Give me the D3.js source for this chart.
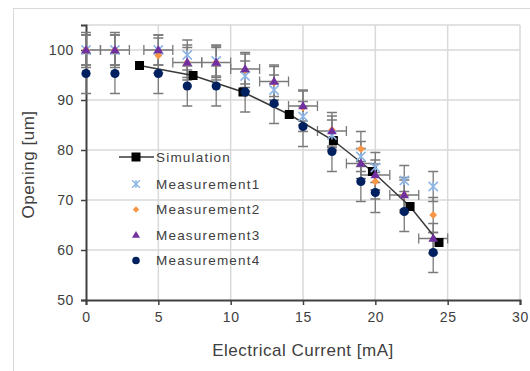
<!DOCTYPE html>
<html>
<head>
<meta charset="utf-8">
<script src="https://cdn.jsdelivr.net/npm/d3@7"></script>
<style>
  body { margin: 0; background: #fff; }
  text { font-family: "Liberation Sans", Arial, sans-serif; fill: #404040; }
</style>
</head>
<body>
<div id="chart"></div>
<script>
// simulation curve
const simX = [3.7, 7.4, 10.85, 14.05, 17.1, 19.8, 22.4, 24.4];
const simY = [96.9, 94.9, 91.6, 87.1, 81.9, 75.7, 68.7, 61.5];

// measurements share the same currents
const measX = [0, 2, 5, 7, 9, 11, 13, 15, 17, 19, 20, 22, 24];
const meas1 = [100, 100, 100, 99, 97.8, 94.8, 92, 86.7, 83, 78.7, 76.5, 73.9, 72.7];
const meas2 = [100, 100, 98.9, 97.5, 97.5, 96, 93.5, 88.5, 84, 80.2, 73.7, 71, 67];
const meas3 = [100, 100, 100, 97.5, 97.5, 96.2, 93.7, 88.8, 83.8, 77.3, 75, 71, 62.3];
const meas4 = [95.3, 95.3, 95.3, 92.8, 92.8, 91.6, 89.3, 84.7, 79.7, 73.7, 71.5, 67.7, 59.5];
const errY = [3, 3.5, 3, 4];   // per measurement series
const errX3 = 1;               // horizontal bars on measurement 3

const xTicks = [0, 5, 10, 15, 20, 25, 30];
const yTicks = [50, 60, 70, 80, 90, 100];
const legendNames = ['Simulation', 'Measurement1', 'Measurement2', 'Measurement3', 'Measurement4'];

const [W, H] = [530, 371];
const m = { l: 86, r: 10, t: 25, b: 71 };

const svg = d3.select('#chart').append('svg').attr('width', W).attr('height', H);

// outer chart frame
svg.append('rect').attr('x', 13.5).attr('y', 8.5).attr('width', W + 10).attr('height', H + 10)
  .attr('fill', 'none').attr('stroke', '#d9d9d9');

const x = d3.scaleLinear().domain([0, 30]).range([m.l, W - m.r]);
const y = d3.scaleLinear().domain([50, 105]).range([H - m.b, m.t]);

// grid
const grid = svg.append('g').attr('stroke', '#d9d9d9').attr('stroke-width', 1.5);
grid.selectAll('.gx').data(xTicks.slice(1)).enter().append('line')
  .attr('x1', d => x(d)).attr('x2', d => x(d)).attr('y1', y(50)).attr('y2', y(105));
grid.selectAll('.gy').data(yTicks.slice(1).concat([105])).enter().append('line')
  .attr('x1', x(0)).attr('x2', x(30)).attr('y1', d => y(d)).attr('y2', d => y(d));

// axes
const xAxis = svg.append('g').attr('transform', `translate(0,${y(50)})`)
  .call(d3.axisBottom(x).tickValues(xTicks).tickSize(5).tickPadding(7));
const yAxis = svg.append('g').attr('transform', `translate(${x(0)},0)`)
  .call(d3.axisLeft(y).tickValues(yTicks).tickSize(5).tickPadding(7));
[xAxis, yAxis].forEach(a => {
  a.select('.domain').attr('stroke', '#404040').attr('stroke-width', 2);
  a.selectAll('.tick line').attr('stroke', '#404040').attr('stroke-width', 1.5);
  a.selectAll('.tick text').attr('font-size', 14).attr('letter-spacing', 0.6).style('fill', '#404040')
    .attr('font-family', '"Liberation Sans", Arial, sans-serif');
});

svg.append('text').attr('x', (x(0) + x(30)) / 2).attr('y', 356)
  .attr('text-anchor', 'middle').attr('font-size', 17).attr('letter-spacing', 0.5)
  .text('Electrical Current [mA]');
svg.append('text').attr('transform', `translate(34,${(y(50) + y(105)) / 2 + 2}) rotate(-90)`)
  .attr('text-anchor', 'middle').attr('font-size', 17).attr('letter-spacing', 0.5).text('Opening [um]');

const series = [meas1, meas2, meas3, meas4];

// error bars
const eb = svg.append('g').attr('stroke', '#7a7a7a').attr('stroke-width', 1.3).attr('fill', 'none');
const cap = 5;
series.forEach((vals, si) => {
  const pts = measX.map((d, i) => [d, vals[i]]);
  const g = eb.append('g');
  g.selectAll('path.v').data(pts).enter().append('path')
    .attr('d', d => {
      const cx = x(d[0]), y1 = y(d[1] + errY[si]), y2 = y(d[1] - errY[si]);
      return `M${cx},${y1}V${y2}M${cx - cap},${y1}H${cx + cap}M${cx - cap},${y2}H${cx + cap}`;
    });
  if (si === 2) {
    g.selectAll('path.h').data(pts).enter().append('path')
      .attr('d', d => {
        const cy = y(d[1]);
        const x1 = x(Math.max(0, d[0] - errX3)), x2 = x(d[0] + errX3);
        let p = `M${x1},${cy}H${x2}M${x2},${cy - cap}V${cy + cap}`;
        if (d[0] - errX3 >= 0) p += `M${x1},${cy - cap}V${cy + cap}`;
        return p;
      });
  }
});

// simulation
const simPts = simX.map((d, i) => [d, simY[i]]);
svg.append('path').datum(simPts)
  .attr('d', d3.line().x(d => x(d[0])).y(d => y(d[1])))
  .attr('fill', 'none').attr('stroke', '#3a3a3a').attr('stroke-width', 1.5);
svg.append('g').selectAll('rect').data(simPts).enter().append('rect')
  .attr('x', d => x(d[0]) - 4.5).attr('y', d => y(d[1]) - 4.5)
  .attr('width', 9).attr('height', 9).attr('fill', '#000');

// marker shapes, s = half size
const colors = ['#8db4e2', '#f79646', '#7030a0', '#002060'];
function drawMarker(sel, k, s) {
  if (k === 0) {
    // Excel style star: X with a vertical stroke
    sel.append('path').attr('d', `M${-s},${-s}L${s},${s}M${-s},${s}L${s},${-s}M0,${-s}V${s}`)
      .attr('stroke', colors[0]).attr('stroke-width', 1.5).attr('fill', 'none');
  } else if (k === 1) {
    const r = s * 0.85;
    sel.append('path').attr('d', `M0,${-r}L${r},0L0,${r}L${-r},0Z`).attr('fill', colors[1]);
  } else if (k === 2) {
    const h = s * 1.8;
    sel.append('path').attr('d', `M0,${-h * 0.6}L${s * 1.05},${h * 0.4}L${-s * 1.05},${h * 0.4}Z`).attr('fill', colors[2]);
  } else {
    sel.append('circle').attr('r', s).attr('fill', colors[3]);
  }
}
series.forEach((vals, si) => {
  const g = svg.append('g');
  measX.forEach((d, i) => {
    const t = g.append('g').attr('transform', `translate(${x(d)},${y(vals[i])})`);
    drawMarker(t, si, 4.6);
  });
});

// legend
const leg = svg.append('g');
const legY = [157, 184, 209.5, 235, 260.5];
legendNames.forEach((name, i) => {
  const g = leg.append('g').attr('transform', `translate(136,${legY[i]})`);
  if (i === 0) {
    g.append('line').attr('x1', -17).attr('x2', 18).attr('stroke', '#3a3a3a').attr('stroke-width', 1.5);
    g.append('rect').attr('x', -4.5).attr('y', -4.5).attr('width', 9).attr('height', 9).attr('fill', '#000');
  } else {
    drawMarker(g, i - 1, 3.8);
  }
  g.append('text').attr('x', 20).attr('y', 0).attr('dy', '0.35em')
    .attr('font-size', 13.5).attr('letter-spacing', 1.2).text(name);
});
</script>
</body>
</html>
